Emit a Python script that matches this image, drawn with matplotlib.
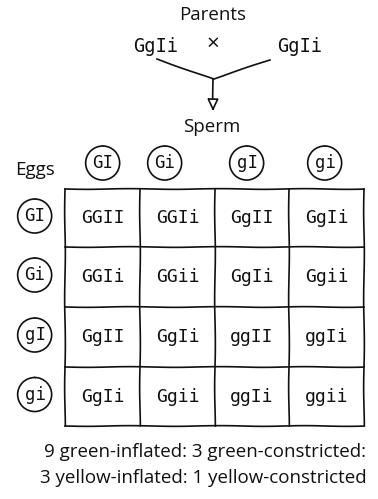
import matplotlib
matplotlib.use("Agg")
import matplotlib.pyplot as plt
from matplotlib.patches import Circle, Polygon

plt.rcParams['font.family'] = ['Open Sans', 'DejaVu Sans']
plt.rcParams['path.sketch'] = (0.35, 90, 1.5)

parent_genotypes = ["GgIi", "GgIi"]
sperm_gametes = ["GI", "Gi", "gI", "gi"]
egg_gametes = ["GI", "Gi", "gI", "gi"]
offspring = [
    ["GGII", "GGIi", "GgII", "GgIi"],
    ["GGIi", "GGii", "GgIi", "Ggii"],
    ["GgII", "GgIi", "ggII", "ggIi"],
    ["GgIi", "Ggii", "ggIi", "ggii"],
]
ratio_lines = ["9 green-inflated: 3 green-constricted:",
               "3 yellow-inflated: 1 yellow-constricted"]

W, H = 378, 499
fig = plt.figure(figsize=(W / 100, H / 100), dpi=100)
ax = fig.add_axes([0, 0, 1, 1])
ax.set_xlim(0, W)
ax.set_ylim(H, 0)
ax.axis("off")

ink = "#111111"
lw = 1.2
geno_font = ['DejaVu Sans Mono']

# Parents
ax.text(213, 15, "Parents", ha="center", va="center", fontsize=13.5, color=ink)
ax.text(156, 46, parent_genotypes[0], ha="center", va="center", fontsize=13.5,
        color=ink, family=geno_font)
ax.text(300, 46, parent_genotypes[1], ha="center", va="center", fontsize=13.5,
        color=ink, family=geno_font)
ax.text(213, 44, "×", ha="center", va="center", fontsize=16, color=ink)
ax.plot([157, 213], [59, 79], color=ink, lw=lw)
ax.plot([270, 213], [60, 79], color=ink, lw=lw)
ax.plot([213, 213], [79, 99], color=ink, lw=lw)
ax.add_patch(Polygon([[208, 99], [218, 99], [213, 110]], closed=True,
                     fill=False, edgecolor=ink, lw=lw))
ax.text(212, 127, "Sperm", ha="center", va="center", fontsize=13.5, color=ink)

# Eggs label
ax.text(35, 170, "Eggs", ha="center", va="center", fontsize=13.5, color=ink)

# Grid geometry
col_edges = [65, 140, 215, 289, 364]
row_edges = [189, 247, 307, 367, 426]
col_c = [(col_edges[i] + col_edges[i + 1]) / 2 for i in range(4)]
row_c = [(row_edges[i] + row_edges[i + 1]) / 2 for i in range(4)]
circ_x_top = [103, 165, 247, 325]
r = 17

for x, g in zip(circ_x_top, sperm_gametes):
    ax.add_patch(Circle((x, 163), r, fill=False, edgecolor=ink, lw=lw))
    ax.text(x, 163, g, ha="center", va="center", fontsize=12.5, color=ink,
            family=geno_font)

for y, g in zip(row_c, egg_gametes):
    y0 = y - 2
    ax.add_patch(Circle((35, y0), r, fill=False, edgecolor=ink, lw=lw))
    ax.text(35, y0, g, ha="center", va="center", fontsize=12.5, color=ink,
            family=geno_font)

for x in col_edges:
    ax.plot([x, x], [row_edges[0], row_edges[-1]], color=ink, lw=lw)
for y in row_edges:
    ax.plot([col_edges[0], col_edges[-1]], [y, y], color=ink, lw=lw)

for i in range(4):
    for j in range(4):
        ax.text(col_c[j], row_c[i], offspring[i][j], ha="center", va="center",
                fontsize=13, color=ink, family=geno_font)

ax.text(205, 452, ratio_lines[0], ha="center", va="center", fontsize=13.5, color=ink)
ax.text(203, 478, ratio_lines[1], ha="center", va="center", fontsize=13.5, color=ink)

fig.savefig("out.png", dpi=100)
